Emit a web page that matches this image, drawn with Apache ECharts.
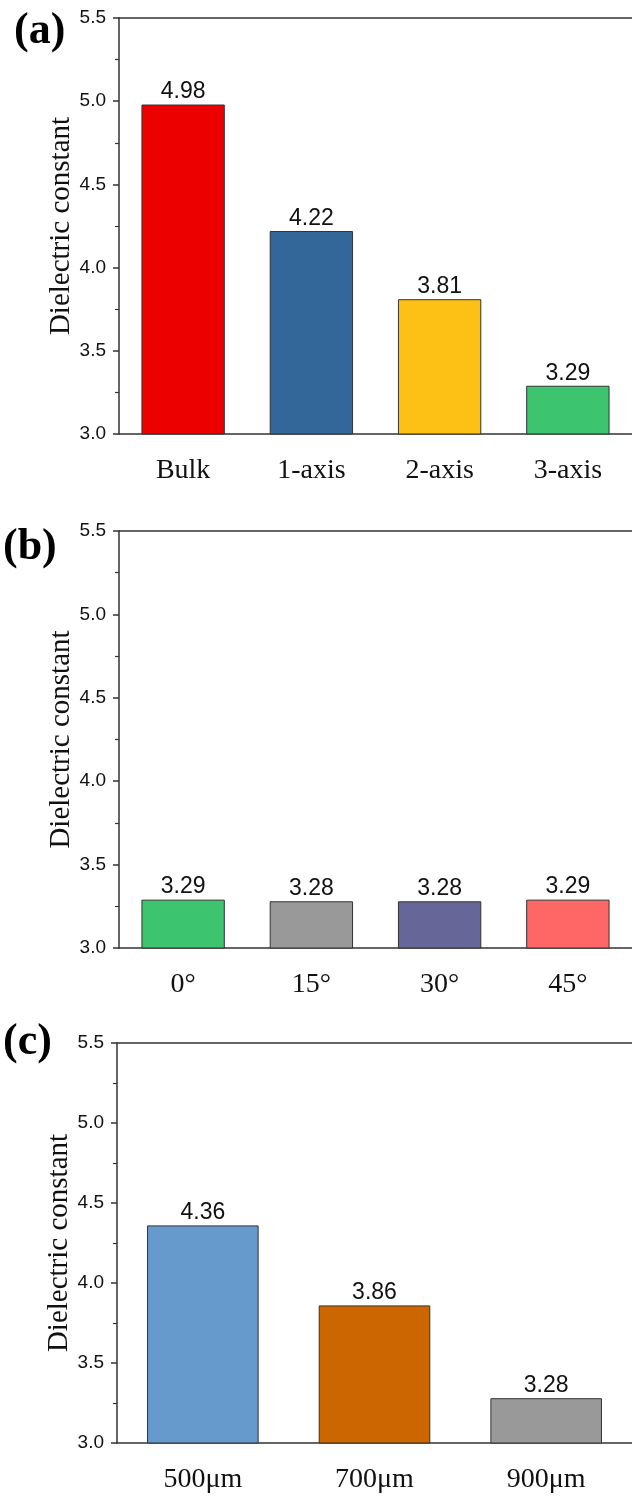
<!DOCTYPE html>
<html>
<head>
<meta charset="utf-8">
<script src="https://cdn.jsdelivr.net/npm/echarts@6/dist/echarts.min.js"></script>
<style>
  html, body { margin: 0; padding: 0; background: #fff; }
  #chart { width: 632px; height: 1497px; }
</style>
</head>
<body>
<div id="chart"></div>
<script>
// Panel (a): axis structure
const categoriesA = ['Bulk', '1-axis', '2-axis', '3-axis'];
const valuesA = [4.98, 4.22, 3.81, 3.29];
const colorsA = ['#ec0000', '#336699', '#fcc114', '#3cc46e'];

// Panel (b): rotation angle
const categoriesB = ['0°', '15°', '30°', '45°'];
const valuesB = [3.29, 3.28, 3.28, 3.29];
const colorsB = ['#3cc46e', '#999999', '#666699', '#ff6666'];

// Panel (c): strut size
const categoriesC = ['500μm', '700μm', '900μm'];
const valuesC = [4.36, 3.86, 3.28];
const colorsC = ['#6699cc', '#cc6600', '#999999'];

// Shared value-axis range and tick step
const yMin = 3.0;
const yMax = 5.5;
const yStep = 0.5;

const AXIS_COLOR = '#333';
const TEXT_COLOR = '#111';
const SANS = 'Liberation Sans, Arial, sans-serif';
const SERIF = 'Liberation Serif, Times New Roman, serif';

const grids = [
  { left: 119, top: 18, right: -2, height: 416 },
  { left: 119, top: 531, right: -2, height: 417 },
  { left: 117, top: 1043, right: -2, height: 400 }
];

const panels = [
  { cats: categoriesA, vals: valuesA, colors: colorsA },
  { cats: categoriesB, vals: valuesB, colors: colorsB },
  { cats: categoriesC, vals: valuesC, colors: colorsC }
];

const xAxes = [];
const yAxes = [];
const series = [];

panels.forEach((p, i) => {
  // bottom category axis
  xAxes.push({
    type: 'category',
    gridIndex: i,
    data: p.cats,
    position: 'bottom',
    axisLine: { lineStyle: { color: AXIS_COLOR, width: 1.5 } },
    axisTick: { alignWithLabel: true, inside: false, length: 8, lineStyle: { color: AXIS_COLOR, width: 1.5 } },
    axisLabel: { margin: 23, color: TEXT_COLOR, fontFamily: SERIF, fontSize: 28 },
    splitLine: { show: false }
  });
  // top frame line
  xAxes.push({
    type: 'category',
    gridIndex: i,
    data: p.cats,
    position: 'top',
    axisLine: { lineStyle: { color: AXIS_COLOR, width: 1.5 } },
    axisTick: { show: false },
    axisLabel: { show: false },
    splitLine: { show: false }
  });
  yAxes.push({
    type: 'value',
    gridIndex: i,
    min: yMin,
    max: yMax,
    interval: yStep,
    name: 'Dielectric constant',
    nameLocation: 'middle',
    nameGap: 43,
    nameMoveOverlap: false,
    nameTextStyle: { color: TEXT_COLOR, fontFamily: SERIF, fontSize: 29 },
    axisLine: { show: true, lineStyle: { color: AXIS_COLOR, width: 1.5 } },
    axisTick: { show: true, inside: false, length: 6, lineStyle: { color: AXIS_COLOR, width: 1.5 } },
    minorTick: { show: true, splitNumber: 2, length: 4, lineStyle: { color: AXIS_COLOR, width: 1.2 } },
    axisLabel: {
      margin: 13,
      color: TEXT_COLOR,
      fontFamily: SANS,
      fontSize: 19,
      formatter: v => v.toFixed(1)
    },
    splitLine: { show: false }
  });
  series.push({
    type: 'bar',
    xAxisIndex: i * 2,
    yAxisIndex: i,
    barWidth: '65%',
    data: p.vals.map((v, k) => ({
      value: v,
      itemStyle: { color: p.colors[k], borderColor: '#333', borderWidth: 1 }
    })),
    label: {
      show: true,
      position: 'top',
      distance: 1,
      color: TEXT_COLOR,
      fontFamily: SANS,
      fontSize: 23,
      formatter: d => d.value.toFixed(2)
    },
    silent: true,
    animation: false
  });
});

const panelLabels = [
  { text: '(a)', x: 14, y: 33 },
  { text: '(b)', x: 3, y: 549 },
  { text: '(c)', x: 3, y: 1044 }
];

const chart = echarts.init(document.getElementById('chart'), null, { renderer: 'canvas' });
chart.setOption({
  backgroundColor: '#fff',
  animation: false,
  grid: grids,
  xAxis: xAxes,
  yAxis: yAxes,
  series: series,
  graphic: panelLabels.map(l => ({
    type: 'text',
    left: l.x,
    top: l.y - 23,
    style: {
      text: l.text,
      fill: '#000',
      font: 'bold 44px ' + SERIF
    }
  }))
});
</script>
</body>
</html>
